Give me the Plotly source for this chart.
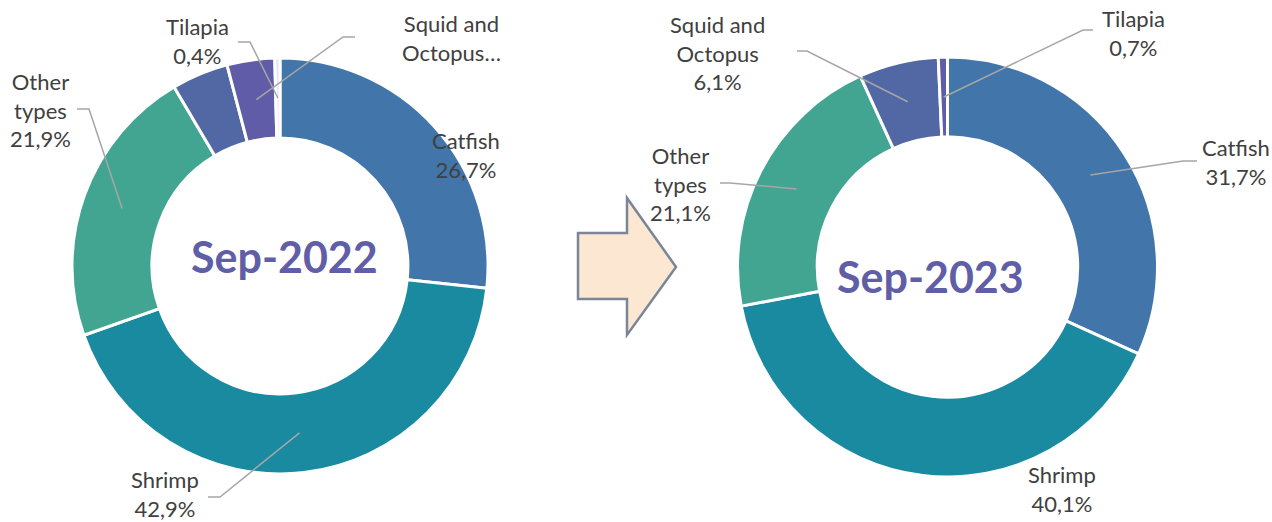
import math

import plotly.graph_objects as go

W, H = 1272, 522

# Sep-2022 share of exports (%)
labels_2022 = ['Catfish', 'Shrimp', 'Other types', 'Other seafood', 'Squid and Octopus', 'Tilapia']
values_2022 = [26.7, 42.9, 21.9, 4.4, 3.7, 0.4]
colors_2022 = ['#4275a9', '#1a8aa1', '#41a591', '#5168a4', '#615ca7', '#e2e6f1']

# Sep-2023 share of exports (%)
labels_2023 = ['Catfish', 'Shrimp', 'Other types', 'Squid and Octopus', 'Tilapia']
values_2023 = [31.7, 40.1, 21.1, 6.1, 0.7]
colors_2023 = ['#4275a9', '#1a8aa1', '#41a591', '#5168a4', '#615ca7']

LINE = '#a6a6a6'
TEXT = '#404040'
TITLE = '#5f5ea6'


def px(x, y):
    return x / W, 1 - y / H


def anchor(values, i, cx, cy, r):
    # point in the middle of slice i, on the middle of the ring
    frac = (sum(values[:i]) + values[i] / 2) / sum(values)
    a = 2 * math.pi * frac
    return cx + r * math.sin(a), cy - r * math.cos(a)


def domain(x0, y0, x1, y1):
    a, b = px(x0, y1)
    c, d = px(x1, y0)
    return dict(x=[a, c], y=[b, d])


fig = go.Figure()

fig.add_trace(go.Pie(
    labels=labels_2022, values=values_2022, sort=False, direction='clockwise', rotation=0,
    hole=0.615, textinfo='none', showlegend=False,
    marker=dict(colors=colors_2022, line=dict(color='white', width=3)),
    domain=domain(72, 58, 488, 474),
))
fig.add_trace(go.Pie(
    labels=labels_2023, values=values_2023, sort=False, direction='clockwise', rotation=0,
    hole=0.62, textinfo='none', showlegend=False,
    marker=dict(colors=colors_2023, line=dict(color='white', width=3)),
    domain=domain(737, 57, 1158, 477),
))

left = (280, 266, 168)
right = (947.5, 267, 170)

# (values, index, pie, label text, label centre, line start, elbow)
label_specs = [
    (values_2022, 0, left, 'Catfish<br>26,7%', (466, 155), None, None),
    (values_2022, 1, left, 'Shrimp<br>42,9%', (165, 494), (208, 497), (220, 497)),
    (values_2022, 2, left, 'Other<br>types<br>21,9%', (40, 110), (77, 109), (89, 109)),
    (values_2022, 4, left, 'Squid and<br>Octopus…', (452, 38), (355, 37), (343, 37)),
    (values_2022, 5, left, 'Tilapia<br>0,4%', (197, 41), (238, 42), (250, 42)),
    (values_2023, 0, right, 'Catfish<br>31,7%', (1236, 162), (1197, 161), (1183, 161)),
    (values_2023, 1, right, 'Shrimp<br>40,1%', (1062, 489), None, None),
    (values_2023, 2, right, 'Other<br>types<br>21,1%', (680, 184), (720, 183), (730, 183)),
    (values_2023, 3, right, 'Squid and<br>Octopus<br>6,1%', (717, 53), (797, 51), (807, 51)),
    (values_2023, 4, right, 'Tilapia<br>0,7%', (1133, 33), (1093, 30), (1083, 30)),
]

annotations = []
shapes = []
for vals, i, pie, text, pos, start, elbow in label_specs:
    x, y = px(*pos)
    annotations.append(dict(x=x, y=y, xref='paper', yref='paper', text=text, showarrow=False,
                            xanchor='center', yanchor='middle',
                            font=dict(size=22, color=TEXT), align='center'))
    if start is not None:
        ax, ay = anchor(vals, i, *pie)
        pts = [px(*start), px(*elbow), px(ax, ay)]
        path = 'M {} {} L {} {} L {} {}'.format(*[c for p in pts for c in p])
        shapes.append(dict(type='path', path=path, xref='paper', yref='paper',
                           line=dict(color=LINE, width=1.5)))

for text, pos in [('Sep-2022', (284, 257)), ('Sep-2023', (930, 276))]:
    x, y = px(*pos)
    annotations.append(dict(x=x, y=y, xref='paper', yref='paper', text='<b>' + text + '</b>',
                            showarrow=False, xanchor='center', yanchor='middle',
                            font=dict(size=43, color=TITLE)))

# block arrow between the two donuts
arrow_pts = [(578, 233), (627, 233), (627, 198), (676, 267), (627, 335), (627, 299), (578, 299)]
arrow = 'M ' + ' L '.join('{} {}'.format(*px(*p)) for p in arrow_pts) + ' Z'
shapes.append(dict(type='path', path=arrow, xref='paper', yref='paper',
                   fillcolor='#fce8d2', line=dict(color='#7a8597', width=2.5)))

fig.update_layout(
    width=W, height=H,
    margin=dict(l=0, r=0, t=0, b=0),
    paper_bgcolor='white', plot_bgcolor='white',
    font=dict(family='Lato, Open Sans, sans-serif', color=TEXT),
    annotations=annotations,
    shapes=shapes,
)

# drop the default page margin so the figure sits at the window's corner
fig.write_html('out.html', config={'displayModeBar': False},
               post_script="document.body.style.margin='0';")
